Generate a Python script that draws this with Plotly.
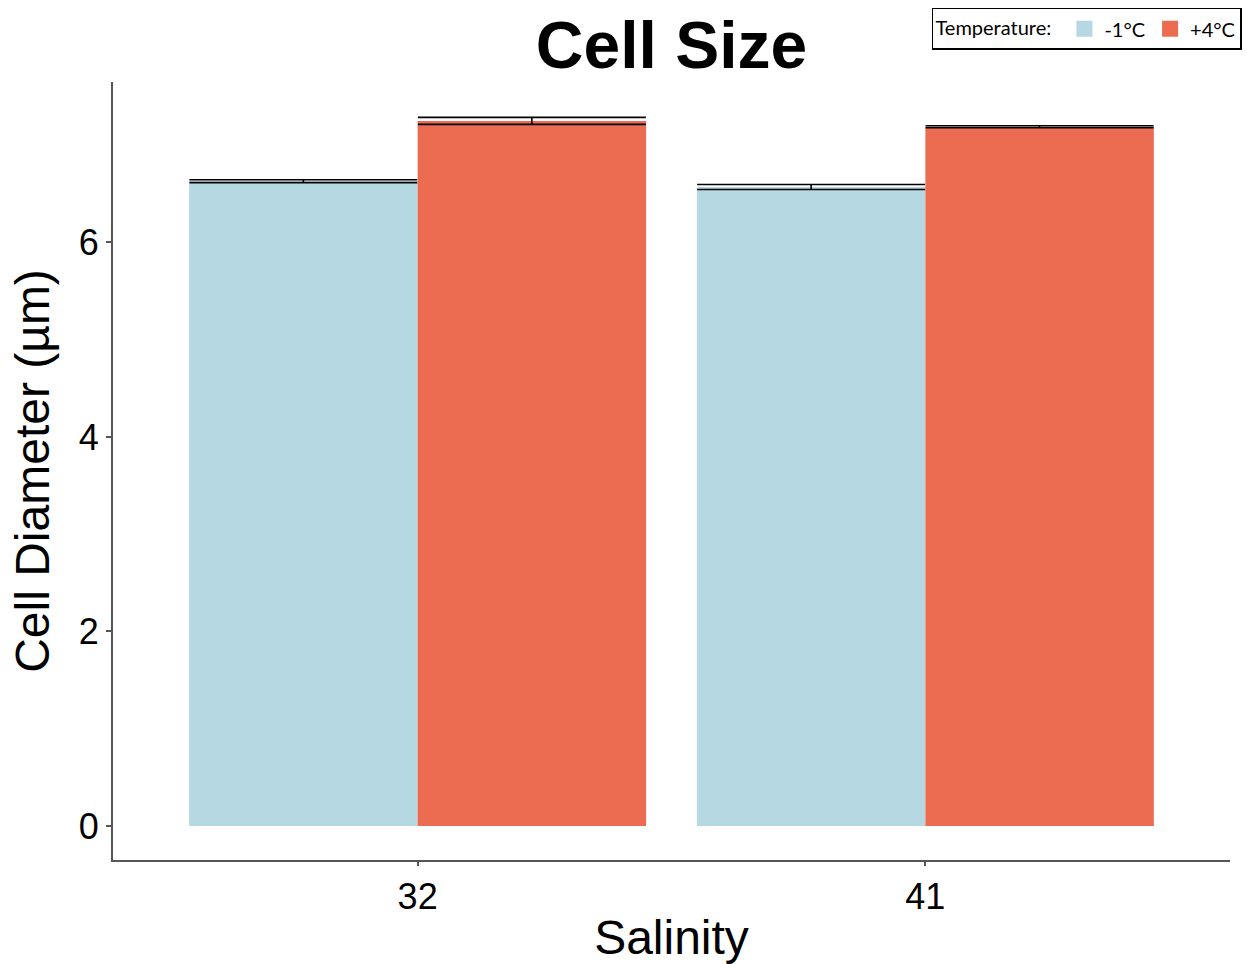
import plotly.graph_objects as go

salinity = ["32", "41"]
temps = ["-1°C", "+4°C"]
mean_cold = [6.63, 6.57]
err_cold = [0.015, 0.026]
mean_warm = [7.25, 7.19]
err_warm = [0.036, 0.01]
colors = ["#B5D8E3", "#EC6C52"]

fig = go.Figure()
for name, m, e, c in [(temps[0], mean_cold, err_cold, colors[0]),
                      (temps[1], mean_warm, err_warm, colors[1])]:
    fig.add_trace(go.Bar(
        x=salinity, y=m, name=name, marker=dict(color=c, line=dict(width=0)),
        error_y=dict(type="data", array=e, visible=True, width=114,
                     thickness=1.6, color="black"),
        showlegend=False,
    ))
# legend entries with square swatches
for name, c in zip(temps, colors):
    fig.add_trace(go.Scatter(
        x=[None], y=[None], mode="markers", name=name,
        marker=dict(symbol="square", size=20, color=c),
    ))

fig.update_layout(
    width=1247, height=964,
    barmode="group", bargap=0.1, bargroupgap=0,
    paper_bgcolor="white", plot_bgcolor="white",
    margin=dict(l=113, r=17, t=82, b=104, autoexpand=False),
    font=dict(family="Liberation Sans, Arial, sans-serif", color="black"),
    title=dict(text="<b>Cell Size</b>", x=0.5385, xanchor="center", y=0.953, yanchor="middle",
               font=dict(size=66, family="Liberation Sans, Arial, sans-serif")),
    legend=dict(orientation="h", x=1.0107, xanchor="right", y=1.0955, yanchor="top",
                bordercolor="black", borderwidth=1.5, bgcolor="white",
                title=dict(text="Temperature: ", font=dict(size=20, family="Lato, sans-serif")),
                font=dict(size=20, family="Lato, sans-serif"),
                itemwidth=30, tracegroupgap=0),
)
fig.update_xaxes(
    type="category", range=[-0.6, 1.6],
    showline=True, linecolor="#555555", linewidth=2,
    ticks="outside", ticklen=4, tickcolor="#555555", tickwidth=1.5,
    tickfont=dict(size=36), showgrid=False, zeroline=False,
    title=dict(text="Salinity", font=dict(size=48), standoff=8),
)
fig.update_yaxes(
    range=[-0.35, 7.65], tickvals=[0, 2, 4, 6],
    showline=True, linecolor="#555555", linewidth=2,
    ticks="outside", ticklen=5, tickcolor="#555555", tickwidth=1.5,
    tickfont=dict(size=36), showgrid=False, zeroline=False,
    title=dict(text="Cell Diameter (µm)", font=dict(size=48), standoff=14),
)

fig.write_html("out.html")
